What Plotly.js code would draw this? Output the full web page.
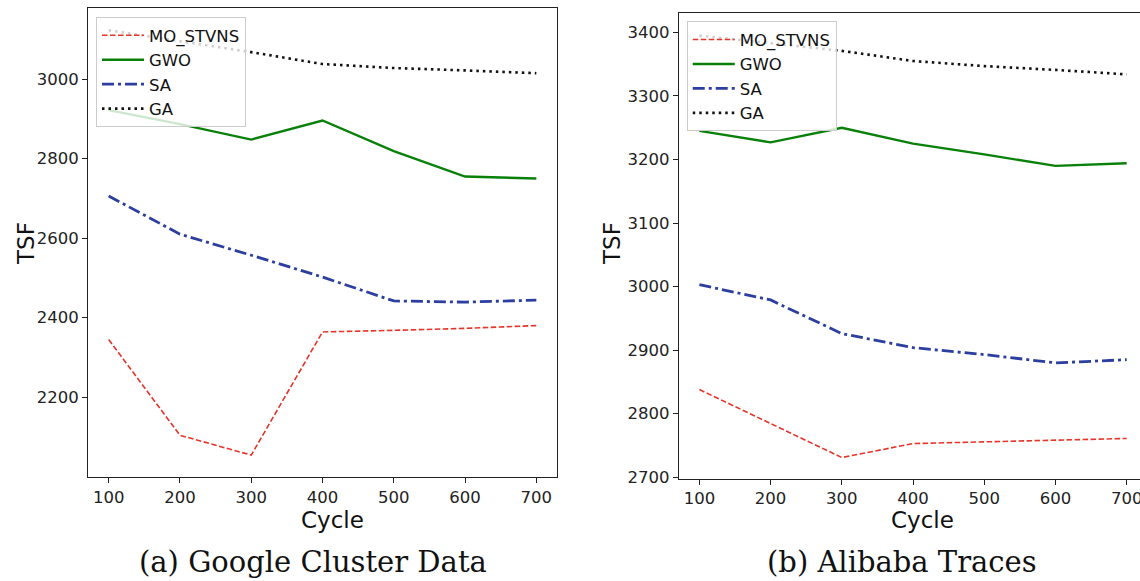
<!DOCTYPE html>
<html>
<head>
<meta charset="utf-8">
<script src="https://cdn.plot.ly/plotly-3.0.1.min.js"></script>
<style>html,body{margin:0;padding:0;background:#fff;}#chart{width:1140px;height:581px;}</style>
</head>
<body>
<div id="chart"></div>
<script>
// Shared x values
var cycles = [100, 200, 300, 400, 500, 600, 700];
var seriesNames = ["MO_STVNS", "GWO", "SA", "GA"];

// (a) Google Cluster Data
var googleMO = [2345, 2104, 2054, 2364, 2368, 2373, 2380];
var googleGWO = [2922, 2887, 2848, 2896, 2819, 2755, 2750];
var googleSA = [2706, 2610, 2557, 2502, 2442, 2439, 2444];
var googleGA = [3123, 3096, 3068, 3038, 3028, 3022, 3015];

// (b) Alibaba Traces
var aliMO = [2838, 2785, 2731, 2753, 2756, 2759, 2761];
var aliGWO = [3245, 3227, 3250, 3225, 3208, 3190, 3194];
var aliSA = [3003, 2979, 2926, 2904, 2893, 2880, 2885];
var aliGA = [3395, 3383, 3371, 3355, 3347, 3341, 3334];

var xTicks = [100, 200, 300, 400, 500, 600, 700];
var yTicksA = [2200, 2400, 2600, 2800, 3000];
var yTicksB = [2700, 2800, 2900, 3000, 3100, 3200, 3300, 3400];
var subTitles = ["(a) Google Cluster Data", "(b) Alibaba Traces"];
var xTitle = "Cycle";
var yTitle = "TSF";

var styles = [
  {color: "#e5352b", width: 1.6, dash: "5.5px,2.5px"},
  {color: "#098009", width: 2.4, dash: "solid"},
  {color: "#2c3e9f", width: 2.8, dash: "12px,4px,3px,4px"},
  {color: "#111111", width: 2.6, dash: "2.5px,4px"}
];

function mk(y, i, xa, ya, lg) {
  return {
    x: cycles, y: y, type: "scatter", mode: "lines", name: seriesNames[i],
    xaxis: xa, yaxis: ya, legend: lg,
    line: {color: styles[i].color, width: styles[i].width, dash: styles[i].dash}
  };
}

var data = [
  mk(googleMO, 0, "x", "y", "legend"),
  mk(googleGWO, 1, "x", "y", "legend"),
  mk(googleSA, 2, "x", "y", "legend"),
  mk(googleGA, 3, "x", "y", "legend"),
  mk(aliMO, 0, "x2", "y2", "legend2"),
  mk(aliGWO, 1, "x2", "y2", "legend2"),
  mk(aliSA, 2, "x2", "y2", "legend2"),
  mk(aliGA, 3, "x2", "y2", "legend2")
];

var tickFont = {family: "DejaVu Sans", size: 16.5, color: "#222"};
var titleFont = {family: "DejaVu Sans", size: 23, color: "#111"};
var axBase = {
  showgrid: false, zeroline: false, showline: true, linecolor: "#222", linewidth: 1,
  ticks: "outside", ticklen: 5, tickcolor: "#222", tickwidth: 1, tickfont: tickFont,
  ticklabeloverflow: "allow"
};
function ax(extra) { return Object.assign({}, axBase, extra); }

var legendBase = {
  bgcolor: "rgba(255,255,255,0.8)", bordercolor: "#cccccc", borderwidth: 1,
  font: {family: "DejaVu Sans", size: 16.5, color: "#111"},
  xanchor: "left", yanchor: "top", tracegroupgap: 0, itemwidth: 42
};

function ann(text, x, y, font, angle) {
  return {text: text, xref: "paper", yref: "paper", x: x / 1140, y: 1 - y / 581,
    xanchor: "center", yanchor: "middle", showarrow: false, textangle: angle || 0, font: font};
}
var capFont = {family: "DejaVu Serif", size: 29, color: "#111"};

var layout = {
  width: 1140, height: 581,
  margin: {l: 0, r: 0, t: 0, b: 0},
  paper_bgcolor: "#fff", plot_bgcolor: "#fff",
  showlegend: true,
  xaxis: ax({domain: [0.0772, 0.4886], range: [71, 729], tickvals: xTicks, mirror: true, anchor: "y"}),
  yaxis: ax({domain: [0.179, 0.9862], range: [1999, 3179], tickvals: yTicksA, mirror: true, anchor: "x"}),
  xaxis2: ax({domain: [0.5954, 1], range: [71, 718.7], tickvals: xTicks, mirror: true, anchor: "y2"}),
  yaxis2: ax({domain: [0.1764, 0.9781], range: [2698, 3431], tickvals: yTicksB, anchor: "x2"}),
  legend: Object.assign({}, legendBase, {x: 0.0842, y: 0.9707}),
  legend2: Object.assign({}, legendBase, {x: 0.6024, y: 0.9633}),
  annotations: [
    ann(yTitle, 26, 244, titleFont, -90),
    ann(yTitle, 612, 244, titleFont, -90),
    ann(xTitle, 332, 520, titleFont),
    ann(xTitle, 922, 520, titleFont),
    ann(subTitles[0], 313, 562, capFont),
    ann(subTitles[1], 902, 562, capFont)
  ]
};

Plotly.newPlot("chart", data, layout, {displayModeBar: false, staticPlot: true});
</script>
</body>
</html>
